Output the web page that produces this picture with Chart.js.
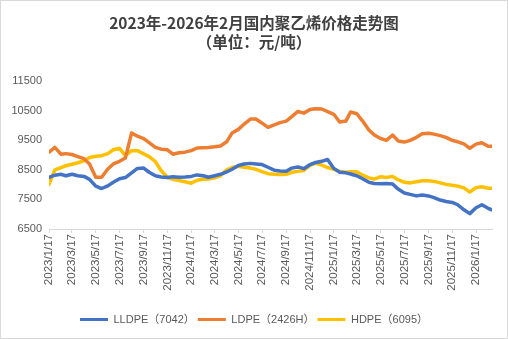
<!DOCTYPE html>
<html lang="zh-CN">
<head>
<meta charset="utf-8">
<title>2023年-2026年2月国内聚乙烯价格走势图</title>
<script src="https://cdn.jsdelivr.net/npm/chart.js@4/dist/chart.umd.min.js"></script>
<style>
    html, body { margin: 0; padding: 0; background: #ffffff; }
    #peChart { display: block; }
</style>
</head>
<body>
<canvas id="peChart" width="508" height="339"></canvas>
<script>
/* --- Dati: prezzi polietilene (元/吨), campionati il 1 e il 17 di ogni mese --- */
const dates = [
    '2023/1/17', '2023/2/1', '2023/2/17', '2023/3/1', '2023/3/17', '2023/4/1', '2023/4/17', '2023/5/1', '2023/5/17', '2023/6/1',
    '2023/6/17', '2023/7/1', '2023/7/17', '2023/8/1', '2023/8/17', '2023/9/1', '2023/9/17', '2023/10/1', '2023/10/17', '2023/11/1',
    '2023/11/17', '2023/12/1', '2023/12/17', '2024/1/1', '2024/1/17', '2024/2/1', '2024/2/17', '2024/3/1', '2024/3/17', '2024/4/1',
    '2024/4/17', '2024/5/1', '2024/5/17', '2024/6/1', '2024/6/17', '2024/7/1', '2024/7/17', '2024/8/1', '2024/8/17', '2024/9/1',
    '2024/9/17', '2024/10/1', '2024/10/17', '2024/11/1', '2024/11/17', '2024/12/1', '2024/12/17', '2025/1/1', '2025/1/17', '2025/2/1',
    '2025/2/17', '2025/3/1', '2025/3/17', '2025/4/1', '2025/4/17', '2025/5/1', '2025/5/17', '2025/6/1', '2025/6/17', '2025/7/1',
    '2025/7/17', '2025/8/1', '2025/8/17', '2025/9/1', '2025/9/17', '2025/10/1', '2025/10/17', '2025/11/1', '2025/11/17', '2025/12/1',
    '2025/12/17', '2026/1/1', '2026/1/17', '2026/2/1', '2026/2/17', '2026/2/26'
];

const lldpe = [
    8250, 8320, 8350, 8300, 8350, 8300, 8280, 8180, 7950, 7870,
    7960, 8080, 8200, 8240, 8400, 8550, 8560, 8420, 8300, 8260,
    8240, 8270, 8250, 8260, 8280, 8330, 8300, 8250, 8300, 8350,
    8430, 8520, 8650, 8700, 8720, 8700, 8680, 8590, 8490, 8460,
    8450, 8560, 8600, 8540, 8680, 8750, 8790, 8850, 8550, 8420,
    8400, 8360, 8300, 8200, 8080, 8040, 8030, 8040, 8020, 7850,
    7720, 7670, 7620, 7650, 7620, 7560, 7480, 7430, 7400, 7320,
    7150, 7020, 7220, 7320, 7200, 7150
];

const ldpe = [
    9100, 9260, 9030, 9050, 9020, 8950, 8880, 8700, 8250, 8250,
    8530, 8700, 8790, 8900, 9750, 9640, 9560, 9420, 9260, 9200,
    9180, 9030, 9080, 9100, 9150, 9240, 9250, 9260, 9280, 9310,
    9450, 9750, 9870, 10050, 10220, 10220, 10080, 9940, 10020, 10100,
    10150, 10300, 10480, 10420, 10540, 10570, 10560, 10470, 10380, 10120,
    10150, 10460, 10400, 10150, 9850, 9680, 9560, 9500, 9680, 9480,
    9440, 9500, 9600, 9720, 9740, 9710, 9660, 9600, 9500, 9450,
    9380, 9230, 9370, 9420, 9300, 9300
];

const hdpe = [
    8010, 8500, 8580, 8640, 8690, 8740, 8810, 8920, 8960, 8980,
    9050, 9180, 9230, 8980, 9150, 9150, 9040, 8950, 8780, 8470,
    8250, 8180, 8140, 8100, 8050, 8150, 8180, 8190, 8230, 8300,
    8500, 8580, 8620, 8590, 8560, 8520, 8440, 8370, 8350, 8340,
    8350, 8420, 8450, 8480, 8650, 8730, 8660, 8580, 8520, 8450,
    8420, 8440, 8440, 8320, 8230, 8190, 8270, 8240, 8280, 8170,
    8080, 8060, 8100, 8130, 8130, 8110, 8060, 8010, 7980, 7950,
    7890, 7750, 7900, 7930, 7880, 7880
];

const seriesNames = ['LLDPE（7042）', 'LDPE（2426H）', 'HDPE（6095）'];
const seriesColors = ['#4472C4', '#ED7D31', '#FFC000'];

const xTickDates = [
    '2023/1/17', '2023/3/17', '2023/5/17', '2023/7/17', '2023/9/17', '2023/11/17',
    '2024/1/17', '2024/3/17', '2024/5/17', '2024/7/17', '2024/9/17', '2024/11/17',
    '2025/1/17', '2025/3/17', '2025/5/17', '2025/7/17', '2025/9/17', '2025/11/17',
    '2026/1/17'
];
const xEndDate = '2026/2/27';
const yTicks = [6500, 7500, 8500, 9500, 10500, 11500];

/* --- Date helpers: asse x lineare in giorni dal primo campione --- */
const DAY = 86400000;
function parseDate(s) {
    const [y, m, d] = s.split('/').map(Number);
    return Date.UTC(y, m - 1, d);
}
const baseTime = parseDate(dates[0]);
const dayOf = s => Math.round((parseDate(s) - baseTime) / DAY);
function labelOf(day) {
    const dt = new Date(baseTime + day * DAY);
    return `${dt.getUTCFullYear()}/${dt.getUTCMonth() + 1}/${dt.getUTCDate()}`;
}
const toPoints = values => dates.map((d, i) => ({ x: dayOf(d), y: values[i] }));

/* Cornice grigia e sfondo bianco */
const framePlugin = {
    id: 'frame',
    beforeDraw(chart) {
        const { ctx, width, height } = chart;
        ctx.save();
        ctx.fillStyle = '#ffffff';
        ctx.fillRect(0, 0, width, height);
        ctx.strokeStyle = '#d9d9d9';
        ctx.lineWidth = 1;
        ctx.strokeRect(0.5, 0.5, width - 1, height - 1);
        ctx.restore();
    }
};

const textColor = '#595959';
const axisColor = '#d9d9d9';
const tickFont = { family: "'Liberation Sans', Arial, sans-serif", size: 11 };

const ctx = document.getElementById('peChart').getContext('2d');
new Chart(ctx, {
    type: 'line',
    data: {
        datasets: [lldpe, ldpe, hdpe].map((values, i) => ({
            label: seriesNames[i],
            data: toPoints(values),
            borderColor: seriesColors[i],
            backgroundColor: seriesColors[i],
            borderWidth: 3.5,
            pointRadius: 0,
            tension: 0,
            borderJoinStyle: 'round',
            borderCapStyle: 'round'
        }))
    },
    options: {
        responsive: false,
        animation: false,
        devicePixelRatio: 1,
        layout: { padding: { left: 0, right: 0, top: 0, bottom: 4 } },
        scales: {
            x: {
                type: 'linear',
                min: 0,
                max: dayOf(xEndDate),
                afterBuildTicks: scale => { scale.ticks = xTickDates.map(d => ({ value: dayOf(d) })); },
                afterFit: scale => { scale.height = 82; },
                grid: { display: true, drawOnChartArea: false, drawTicks: true, tickLength: 4, color: axisColor },
                border: { display: true, color: axisColor, width: 1 },
                ticks: {
                    autoSkip: false,
                    minRotation: 90,
                    maxRotation: 90,
                    padding: 1,
                    color: textColor,
                    font: { ...tickFont, size: 11.5 },
                    callback: value => labelOf(value)
                }
            },
            y: {
                min: 6500,
                max: 11500,
                afterBuildTicks: scale => { scale.ticks = yTicks.map(v => ({ value: v })); },
                afterFit: scale => { scale.width = 49; },
                grid: { display: false, drawTicks: false },
                border: { display: false },
                ticks: {
                    padding: 7,
                    color: textColor,
                    font: tickFont,
                    callback: value => String(value)
                }
            },
            // margine destro vuoto, così titolo e legenda restano centrati sul canvas
            yRight: {
                position: 'right',
                afterFit: scale => { scale.width = 16; },
                grid: { display: false, drawTicks: false },
                border: { display: false },
                ticks: { display: false }
            }
        },
        plugins: {
            title: {
                display: true,
                text: ['2023年-2026年2月国内聚乙烯价格走势图', '（单位：元/吨）'],
                color: '#404040',
                font: { family: "'Noto Sans CJK SC', sans-serif", size: 15.5, weight: 'bold', lineHeight: 1.2 },
                padding: { top: 14, bottom: 30 }
            },
            legend: {
                position: 'bottom',
                labels: {
                    boxWidth: 28,
                    boxHeight: 3,
                    padding: 3,
                    color: textColor,
                    font: { family: "'Liberation Sans', 'Noto Sans CJK SC', sans-serif", size: 11 },
                    generateLabels(chart) {
                        const items = Chart.defaults.plugins.legend.labels.generateLabels(chart);
                        items.forEach(item => {
                            item.lineWidth = 0;
                            item.fillStyle = item.strokeStyle;
                        });
                        return items;
                    }
                }
            },
            tooltip: { enabled: false }
        }
    },
    plugins: [framePlugin]
});
</script>
</body>
</html>
